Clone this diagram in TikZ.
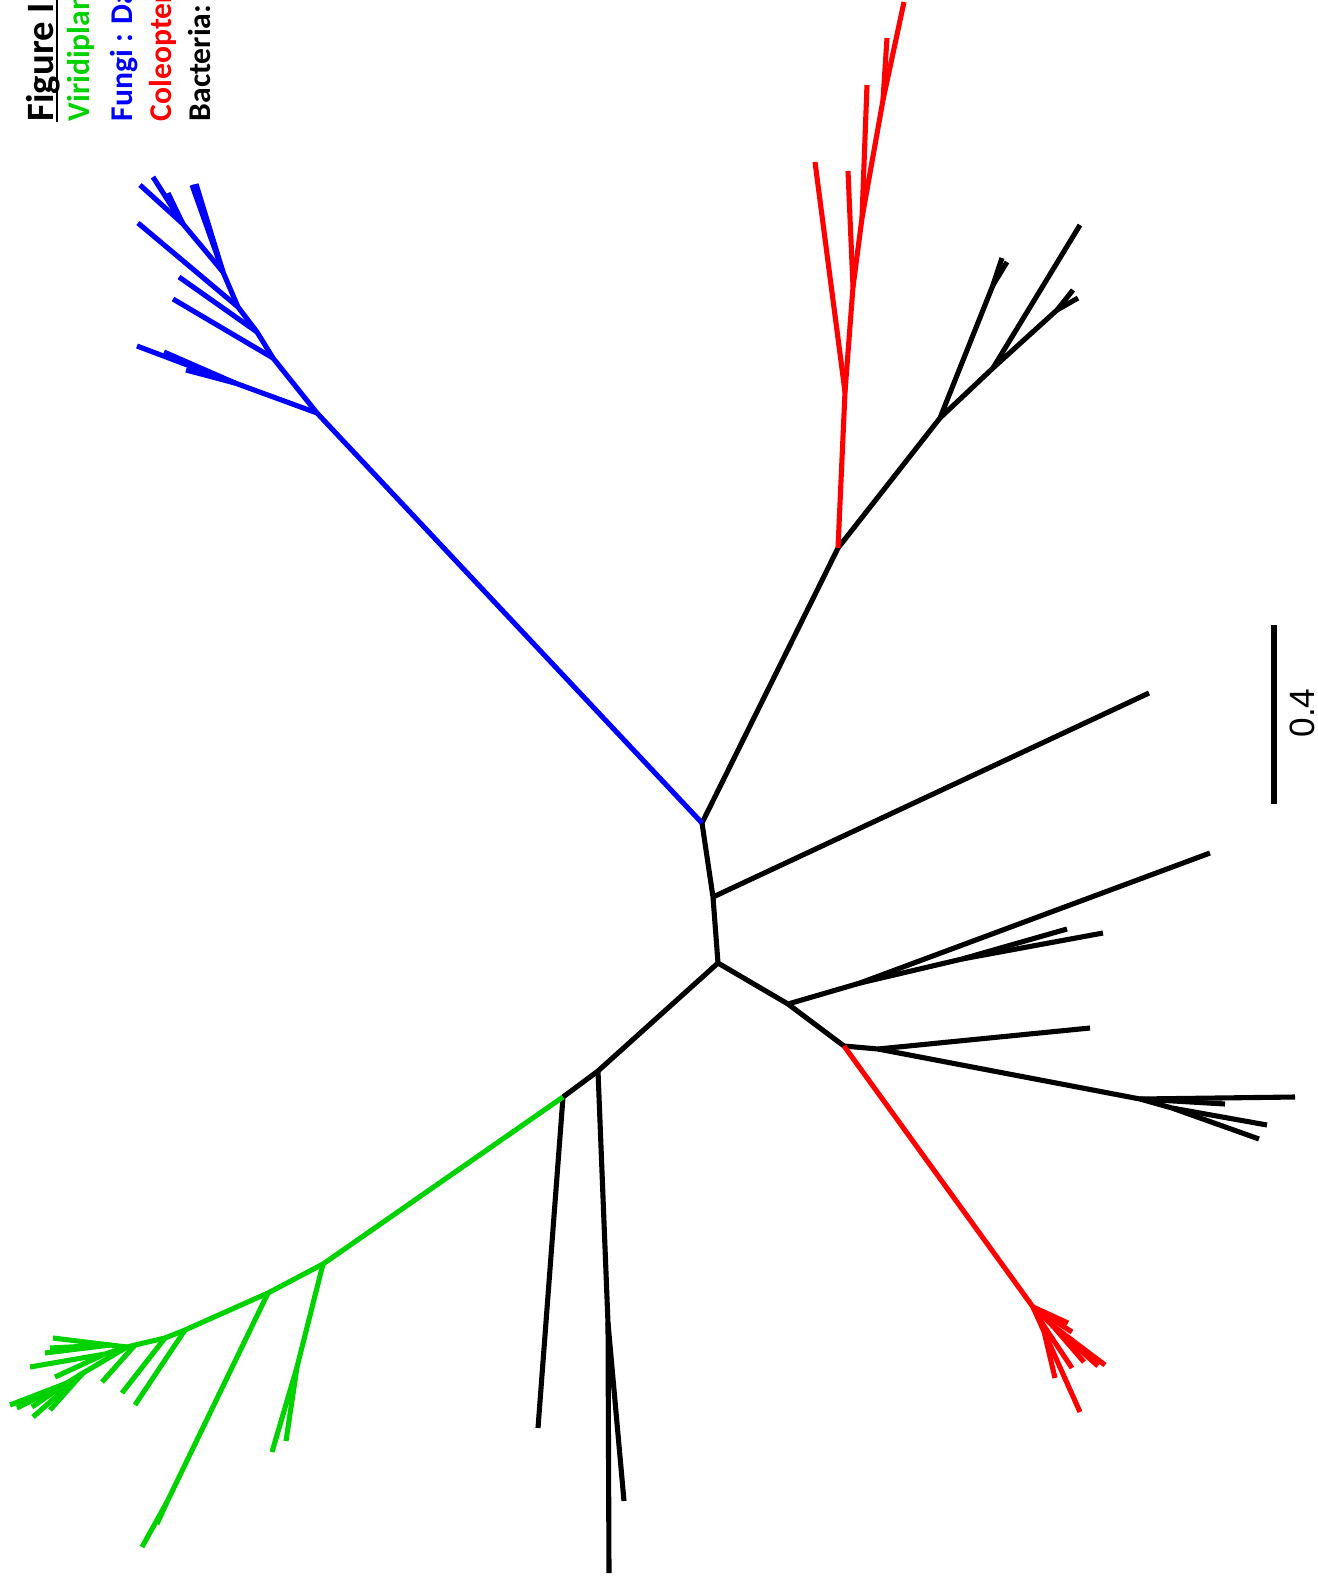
\documentclass[tikz,border=0pt]{standalone}
\usepackage{fontspec}
\setmainfont{Carlito}
\newfontfamily\barfont{Liberation Sans}
\usetikzlibrary{calc}
\definecolor{treeGreen}{RGB}{0,210,0}
\definecolor{treeBlue}{RGB}{0,0,255}
\definecolor{treeRed}{RGB}{255,0,0}
\tikzset{
  branch/.style={line width=1.45pt},
  legend/.style={rotate=90, anchor=base west, inner sep=0pt,
    font=\fontsize{9}{11}\selectfont\bfseries},
}

\begin{document}
\begin{tikzpicture}[x=0.01cm,y=-0.01cm]
    \useasboundingbox (0,0) rectangle (1318,1581);

    % inner nodes of the backbone
    \coordinate (A) at (702,823);
    \coordinate (B) at (713,897);
    \coordinate (C) at (718,963);
    \coordinate (D) at (788,1004);
    \coordinate (E) at (844,1046);
    \coordinate (F) at (598,1071);
    \coordinate (G) at (563,1097);
    \coordinate (I) at (838,548);
    \coordinate (N) at (940,418);
    \coordinate (N2) at (993,285);
    \coordinate (O) at (993,368);
    \coordinate (P) at (1057,310);
    \coordinate (Q) at (860,983);
    \coordinate (R) at (962,959);
    \coordinate (S) at (878,1049);
    \coordinate (T) at (1140,1099);
    \coordinate (T2) at (1172,1108);
    \coordinate (V) at (608,1323);

    % fungi nodes
    \coordinate (H) at (317,413);
    \coordinate (h1) at (235,383);
    \coordinate (h2) at (273,358);
    \coordinate (h3) at (257,332);
    \coordinate (h4) at (238,307);
    \coordinate (h5) at (223,272);
    \coordinate (h6) at (183,224);

    % coleoptera nodes
    \coordinate (J) at (845,392);
    \coordinate (K) at (853,287);
    \coordinate (L) at (862,218);
    \coordinate (M) at (883,100);
    \coordinate (U) at (1033,1307);
    \coordinate (u1) at (1052,1325);
    \coordinate (u2) at (1042,1323);

    % viridiplantae nodes
    \coordinate (W) at (323,1264);
    \coordinate (w1) at (297,1367);
    \coordinate (X) at (268,1293);
    \coordinate (x1) at (167,1502);
    \coordinate (Y) at (185,1330);
    \coordinate (Y2) at (165,1338);
    \coordinate (Y3) at (135,1345);
    \coordinate (Z) at (127,1347);
    \coordinate (z1) at (110,1345);
    \coordinate (z2) at (105,1354);
    \coordinate (z3) at (83,1373);
    \coordinate (z4) at (67,1383);

    % bacteria backbone
    \draw[branch] (A) -- (B) -- (C) -- (D) -- (E);
    \draw[branch] (C) -- (F) -- (G);
    \draw[branch] (A) -- (I) -- (N) -- (N2);
    \draw[branch] (N) -- (O) -- (P);
    \draw[branch] (D) -- (Q) -- (R);
    \draw[branch] (E) -- (S) -- (T) -- (T2);
    \draw[branch] (F) -- (V);

    % bacteria leaves
    \foreach \from/\lx/\ly [count=\i] in {B/1149/693, N2/1002/258, N2/1007/262,
        O/1080/225, P/1073/290, P/1078/298, Q/1210/853, R/1067/929, R/1103/933,
        S/1090/1028, T/1295/1097, T/1225/1104, T2/1267/1125, T2/1259/1139,
        V/609/1573, V/624/1501, G/538/1428}
    {
        \coordinate (bac\i) at (\lx,\ly);
        \draw[branch] (\from) -- (bac\i);
    }

    % fungi
    \draw[branch, treeBlue] (A) -- (H) -- (h1);
    \draw[branch, treeBlue] (H) -- (h2) -- (h3) -- (h4) -- (h5) -- (h6);
    \foreach \from/\lx/\ly [count=\i] in {h1/137/346, h1/164/352, h1/186/370,
        h2/173/299, h3/179/277, h4/138/223, h5/192/185, h5/196/184,
        h6/140/185, h6/153/177, h6/168/193}
    {
        \coordinate (fun\i) at (\lx,\ly);
        \draw[branch, treeBlue] (\from) -- (fun\i);
    }

    % coleoptera
    \draw[branch, treeRed] (I) -- (J) -- (K) -- (L) -- (M);
    \draw[branch, treeRed] (E) -- (U) -- (u1);
    \draw[branch, treeRed] (U) -- (u2);
    \foreach \from/\lx/\ly [count=\i] in {J/815/162, K/848/171, L/867/85,
        M/887/38, M/904/2, U/1072/1332, U/1068/1323, U/1080/1412,
        u1/1105/1365, u1/1098/1366, u1/1084/1362, u2/1072/1368, u2/1055/1378}
    {
        \coordinate (col\i) at (\lx,\ly);
        \draw[branch, treeRed] (\from) -- (col\i);
    }

    % viridiplantae
    \draw[branch, treeGreen] (G) -- (W) -- (X) -- (Y) -- (Y2) -- (Y3) -- (Z);
    \draw[branch, treeGreen] (W) -- (w1);
    \draw[branch, treeGreen] (X) -- (x1);
    \draw[branch, treeGreen] (Z) -- (z1);
    \draw[branch, treeGreen] (Z) -- (z2);
    \draw[branch, treeGreen] (Z) -- (z3) -- (z4);
    \foreach \from/\lx/\ly [count=\i] in {w1/272/1452, w1/286/1441,
        x1/142/1547, x1/157/1524, Y/135/1405, Y2/122/1393, Y3/102/1382,
        z1/53/1338, z1/50/1348, z1/45/1353, z2/30/1367, z2/55/1377,
        z4/10/1405, z4/17/1408, z4/32/1407, z3/50/1410, z3/33/1417}
    {
        \coordinate (vir\i) at (\lx,\ly);
        \draw[branch, treeGreen] (\from) -- (vir\i);
    }

    % scale bar
    \coordinate (bartop) at (1274,625);
    \coordinate (barbot) at (1274,804);
    \draw[branch] (bartop) -- (barbot);
    \node[rotate=90, inner sep=0pt, font=\barfont\fontsize{10}{12}\selectfont]
        (barlabel) at (1302,713) {0.4};

    % legend
    \node[legend, font=\fontsize{11}{13}\selectfont\bfseries] (title) at (53,122) {Figure I};
    \draw[line width=0.7pt] (57,122) -- (57,0);
    \node[legend, text=treeGreen] (legVir) at (90,122) {Viridiplant};
    \node[legend, text=treeBlue] (legFun) at (133,122) {Fungi : Dac};
    \node[legend, text=treeRed] (legCol) at (171,122) {Coleopter};
    \node[legend] (legBac) at (210,122) {Bacteria:};
\end{tikzpicture}
\end{document}
